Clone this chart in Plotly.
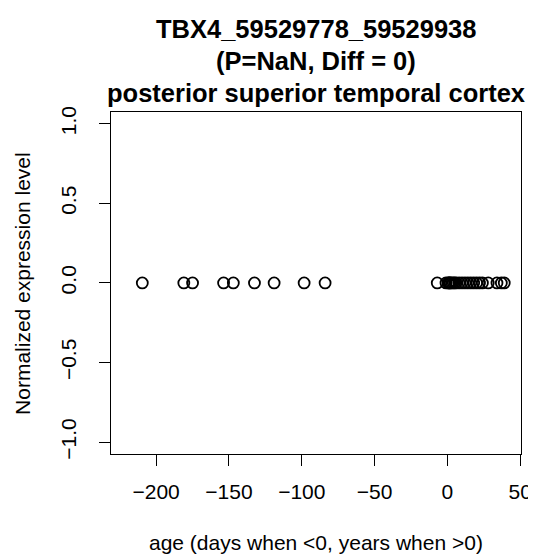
import plotly.graph_objects as go

# Data
ages = [-209.5, -181, -175, -153.7, -147, -132.5, -119, -98.4, -84,
        -7, -1, 0.5, 1, 1.5, 2, 3, 4, 5, 6, 8, 10, 12, 14, 16, 18, 20, 22, 24,
        28, 34, 37, 39]
expr = [0.0] * len(ages)

title_lines = ["TBX4_59529778_59529938", "(P=NaN, Diff = 0)",
               "posterior superior temporal cortex"]
x_ticks = [-200, -150, -100, -50, 0, 50]
y_ticks = [-1.0, -0.5, 0.0, 0.5, 1.0]
y_ticklabels = ["\u22121.0", "\u22120.5", "0.0", "0.5", "1.0"]
x_ticklabels = ["\u2212200", "\u2212150", "\u2212100", "\u221250", "0", "50"]

W, H = 536, 555
L, R, T, B = 103, 14, 104, 109
font = "Liberation Sans, Arial, sans-serif"
FS = 21
TFS = 25.5

fig = go.Figure(go.Scatter(
    x=ages, y=expr, mode="markers",
    marker=dict(symbol="circle-open", size=11, color="black",
                line=dict(width=1.8, color="black")),
    showlegend=False))

fig.update_layout(
    width=W, height=H,
    margin=dict(l=L, r=R, t=T, b=B),
    paper_bgcolor="white", plot_bgcolor="white",
    font=dict(family=font, size=FS, color="black"),
    xaxis=dict(range=[-231, 50.5], tickvals=x_ticks, ticktext=x_ticklabels,
               ticks="outside", ticklen=11, tickwidth=1.3, tickcolor="black",
               showgrid=False, zeroline=False, showline=True, linecolor="black",
               linewidth=1.3, mirror=True, ticklabelstandoff=8),
    yaxis=dict(range=[-1.075, 1.074], tickvals=y_ticks, ticktext=y_ticklabels,
               tickangle=-90, ticks="outside", ticklen=11, tickwidth=1.3,
               tickcolor="black", showgrid=False, zeroline=False, showline=True,
               linecolor="black", linewidth=1.3, mirror=True,
               ticklabelstandoff=14),
)

ph = H - T - B
def py(p):
    return (H - B - p) / ph

annos = []
for txt, yc in zip(title_lines, [21, 53, 85]):
    annos.append(dict(text="<b>%s</b>" % txt, xref="paper", yref="paper",
                      x=0.5, y=py(yc), xanchor="center", yanchor="middle",
                      showarrow=False, font=dict(size=TFS, family=font)))
annos.append(dict(text="age (days when <0, years when >0)", xref="paper",
                  yref="paper", x=0.5, y=py(534), xanchor="center",
                  yanchor="middle", showarrow=False, font=dict(size=FS, family=font)))
annos.append(dict(text="Normalized expression level", xref="paper", yref="paper",
                  x=(12 - L) / (W - L - R), y=0.5, xanchor="center", yanchor="middle",
                  textangle=-90, showarrow=False, font=dict(size=FS, family=font)))
fig.update_layout(annotations=annos)

fig.write_html("out.html")
